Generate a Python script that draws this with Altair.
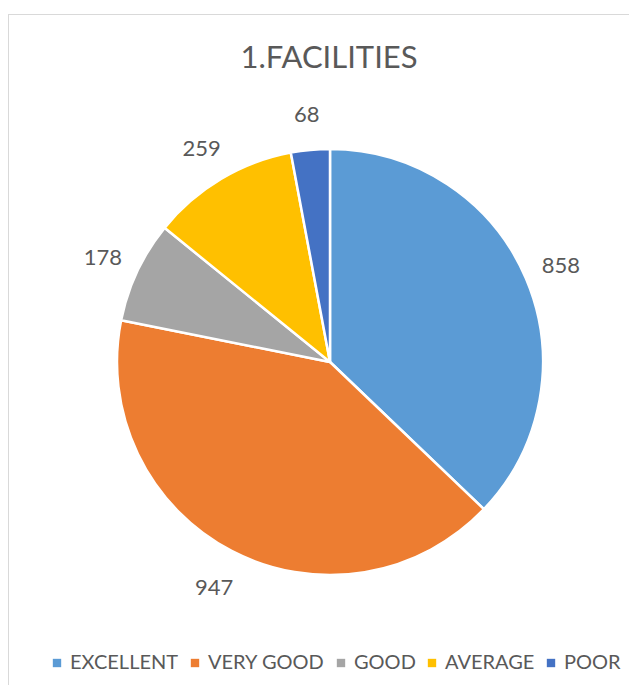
import altair as alt
import pandas as pd

categories = ["EXCELLENT", "VERY GOOD", "GOOD", "AVERAGE", "POOR"]
values = [858, 947, 178, 259, 68]
colors = ["#5B9BD5", "#ED7D31", "#A5A5A5", "#FFC000", "#4472C4"]
title_text = "1.FACILITIES"

df = pd.DataFrame({"category": categories, "value": values, "order": list(range(len(categories)))})

W, H = 621, 677
CX, CY, R = 322, 354, 213
FONT = "Lato"
TXT = "#595959"

base = alt.Chart(df).encode(
    theta=alt.Theta("value:Q", stack=True),
    order=alt.Order("order:Q"),
)

pie = base.mark_arc(outerRadius=R, stroke="white", strokeWidth=2.5).encode(
    x=alt.value(CX), y=alt.value(CY),
    color=alt.Color(
        "category:N",
        scale=alt.Scale(domain=categories, range=colors),
        sort=categories,
        legend=alt.Legend(
            title=None, orient="none", direction="horizontal",
            legendX=39, legendY=645, symbolType="square", symbolSize=70,
            symbolStrokeWidth=0, labelFont=FONT, labelFontSize=20,
            labelColor=TXT, columnPadding=6, labelOffset=3,
        ),
    ),
)

labels = base.mark_text(radius=251, font=FONT, fontSize=22, color=TXT).encode(
    x=alt.value(CX), y=alt.value(CY + 3),
    text="value:Q",
)

title = alt.Chart(pd.DataFrame({"t": [title_text]})).mark_text(
    font=FONT, fontSize=31, color=TXT, baseline="middle"
).encode(x=alt.value(321), y=alt.value(51), text="t:N")

border_top = alt.Chart(pd.DataFrame({"a": [0]})).mark_rule(color="#D9D9D9", strokeWidth=1).encode(
    x=alt.value(0), x2=alt.value(W + 10), y=alt.value(6.5)
)
border_left = alt.Chart(pd.DataFrame({"a": [0]})).mark_rule(color="#D9D9D9", strokeWidth=1).encode(
    x=alt.value(0.5), y=alt.value(6), y2=alt.value(H + 10)
)

chart = alt.layer(border_top, border_left, pie, labels, title).properties(
    width=W, height=H, padding=0, autosize=alt.AutoSizeParams(type="none")
).configure_view(stroke=None)

chart.save("out.html", embed_options={"renderer": "svg", "actions": False})
